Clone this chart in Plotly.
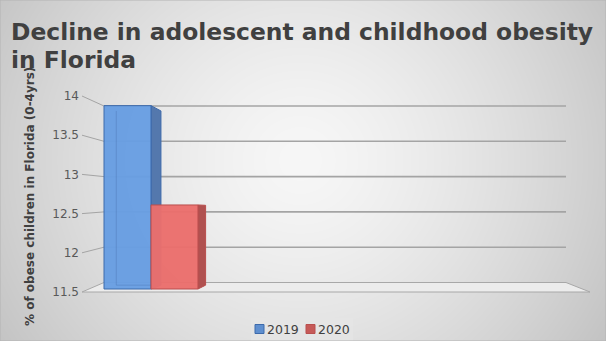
import base64
import struct
import zlib

import numpy as np
import plotly.graph_objects as go

# ---- data -------------------------------------------------------------
categories = ["Florida"]
series_names = ["2019", "2020"]
values_2019 = [13.9]
values_2020 = [12.6]
tick_values = [11.5, 12, 12.5, 13, 13.5, 14]
tick_labels = ["11.5", "12", "12.5", "13", "13.5", "14"]

title_lines = ["Decline in adolescent and childhood obesity", "in Florida"]
y_title = "% of obese children in Florida (0-4yrs)"

# ---- canvas geometry ---------------------------------------------------
W, H = 606, 341
FLOOR = 11.5

# three vertical scales of the 3-D box: bar front face, label plane, back wall
BAR_BASE_PX, BAR_PPU = 289.0, 76.4
LABEL_BASE_PX, LABEL_PPU = 292.0, 78.4
WALL_BASE_PX, WALL_PPU = 282.5, 70.6

WALL_LEFT_PX, WALL_RIGHT_PX = 104.0, 566.0
FLOOR_FRONT_LEFT_PX, FLOOR_FRONT_RIGHT_PX = 82.0, 590.0
VANISH = (350.0, 212.0)
DEPTH_K = 0.05

GROUP_CENTER_PX, GROUP_WIDTH_PX, CAT_SPAN_PX = 151.0, 94.0, 190.0


def xp(p):
    return p / W


def yp(p):
    return 1.0 - p / H


def axis_range(base_px, ppu):
    lo = FLOOR - (H - base_px) / ppu
    return [lo, lo + H / ppu]


def bar_px(v):
    return BAR_BASE_PX - (v - FLOOR) * BAR_PPU


def label_px(v):
    return LABEL_BASE_PX - (v - FLOOR) * LABEL_PPU


def wall_px(v):
    return WALL_BASE_PX - (v - FLOOR) * WALL_PPU


def recede(x, y):
    return x + DEPTH_K * (VANISH[0] - x), y + DEPTH_K * (VANISH[1] - y)


def png_data_uri(rgb):
    h, w, _ = rgb.shape
    raw = b"".join(b"\x00" + rgb[r].tobytes() for r in range(h))

    def chunk(tag, data):
        c = struct.pack(">I", len(data)) + tag + data
        return c + struct.pack(">I", zlib.crc32(tag + data) & 0xFFFFFFFF)

    png = (b"\x89PNG\r\n\x1a\n"
           + chunk(b"IHDR", struct.pack(">IIBBBBB", w, h, 8, 2, 0, 0, 0))
           + chunk(b"IDAT", zlib.compress(raw, 9))
           + chunk(b"IEND", b""))
    return "data:image/png;base64," + base64.b64encode(png).decode()


# soft radial grey backdrop
yy, xx = np.mgrid[0:H, 0:W]
dist = np.sqrt(((xx - 300) / 1.0) ** 2 + ((yy - 160) / 0.95) ** 2) / 360.0
shade = np.clip(247 - 52 * dist ** 1.4, 0, 255).astype(np.uint8)
backdrop = np.dstack([shade, shade, shade])

# ---- figure ------------------------------------------------------------
fig = go.Figure()

bar_colors = ["rgba(104,158,226,0.97)", "rgba(234,110,108,0.97)"]
edge_colors = ["#3d6aab", "#b94f4e"]
side_colors = ["#5478ad", "#b05150"]
swatch_colors = ["#5f8fcf", "#c65a58"]

for name, vals, fill, edge in zip(series_names, [values_2019, values_2020],
                                  bar_colors, edge_colors):
    fig.add_trace(go.Bar(
        name=name,
        x=categories,
        y=[v - FLOOR for v in vals],
        base=[FLOOR] * len(vals),
        marker=dict(color=fill, line=dict(color=edge, width=1)),
        yaxis="y",
        hoverinfo="skip",
        showlegend=False,
    ))

shapes = []
grid_col = "#a4a4a4"

# floor slab
fl_front, fl_back = label_px(FLOOR), wall_px(FLOOR)
shapes.append(dict(
    type="path", xref="paper", yref="paper", layer="below",
    path=(f"M {xp(FLOOR_FRONT_LEFT_PX)},{yp(fl_front)} "
          f"L {xp(FLOOR_FRONT_RIGHT_PX)},{yp(fl_front)} "
          f"L {xp(WALL_RIGHT_PX)},{yp(fl_back)} "
          f"L {xp(WALL_LEFT_PX)},{yp(fl_back)} Z"),
    fillcolor="#ececec", line=dict(color="#a8a8a8", width=1),
))

# back-wall gridlines and leader lines to the tick labels
for v in tick_values:
    if v > FLOOR:
        shapes.append(dict(
            type="line", xref="paper", yref="paper", layer="below",
            x0=xp(WALL_LEFT_PX), x1=xp(WALL_RIGHT_PX),
            y0=yp(wall_px(v)), y1=yp(wall_px(v)),
            line=dict(color=grid_col, width=1.6),
        ))
        shapes.append(dict(
            type="line", xref="paper", yref="paper", layer="below",
            x0=xp(FLOOR_FRONT_LEFT_PX), x1=xp(WALL_LEFT_PX),
            y0=yp(label_px(v)), y1=yp(wall_px(v)),
            line=dict(color=grid_col, width=1),
        ))

# bar side faces (behind the bars) and the back edge seen through the front face
bar_w = GROUP_WIDTH_PX / len(series_names)
for i, vals in enumerate([values_2019, values_2020]):
    left = GROUP_CENTER_PX - GROUP_WIDTH_PX / 2 + i * bar_w
    right = left + bar_w
    top, bottom = bar_px(vals[0]), bar_px(FLOOR)
    tr, br = recede(right, top), recede(right, bottom)
    shapes.append(dict(
        type="path", xref="paper", yref="paper", layer="between",
        path=(f"M {xp(right)},{yp(top)} L {xp(tr[0])},{yp(tr[1])} "
              f"L {xp(br[0])},{yp(br[1])} L {xp(right)},{yp(bottom)} Z"),
        fillcolor=side_colors[i], line=dict(color=edge_colors[i], width=1),
    ))
    if i == 0:
        tl, bl = recede(left, top), recede(left, bottom)
        shapes.append(dict(
            type="path", xref="paper", yref="paper", layer="above",
            path=(f"M {xp(tl[0])},{yp(tl[1])} L {xp(bl[0])},{yp(bl[1])} "
                  f"L {xp(right)},{yp(bl[1])}"),
            line=dict(color="rgba(70,110,170,0.35)", width=1),
        ))

# legend box with swatches
LEG_BOX = (251, 318, 353, 342)
shapes.append(dict(type="rect", xref="paper", yref="paper", layer="above",
                   x0=xp(LEG_BOX[0]), x1=xp(LEG_BOX[2]),
                   y0=yp(LEG_BOX[3]), y1=yp(LEG_BOX[1]),
                   fillcolor="rgba(228,228,228,0.9)", line=dict(width=0)))
swatch_x = [255, 306]
for sx, col, edge in zip(swatch_x, swatch_colors, edge_colors):
    shapes.append(dict(type="rect", xref="paper", yref="paper", layer="above",
                       x0=xp(sx), x1=xp(sx + 9), y0=yp(333.5), y1=yp(324.5),
                       fillcolor=col, line=dict(color=edge, width=1)))

# thin frame round the chart
shapes.append(dict(type="rect", xref="paper", yref="paper", x0=0, y0=0, x1=1, y1=1,
                   line=dict(color="#b4b4b4", width=1), layer="above"))

title_font = dict(family="DejaVu Sans", size=23.4, color="#404040", weight="bold")
annotations = [
    dict(text=title_lines[0], xref="paper", yref="paper", x=xp(9), y=yp(48),
         xanchor="left", yanchor="bottom", showarrow=False, font=title_font),
    dict(text=title_lines[1], xref="paper", yref="paper", x=xp(9), y=yp(76),
         xanchor="left", yanchor="bottom", showarrow=False, font=title_font),
    dict(text=y_title, xref="paper", yref="paper", x=xp(30), y=yp(197),
         xanchor="center", yanchor="middle", textangle=-90, showarrow=False,
         font=dict(family="DejaVu Sans", size=12, color="#404040", weight="bold")),
]
for sx, name in zip(swatch_x, series_names):
    annotations.append(dict(
        text=name, xref="paper", yref="paper", x=xp(sx + 10), y=yp(329),
        xanchor="left", yanchor="middle", showarrow=False,
        font=dict(family="DejaVu Sans", size=12.5, color="#404040"),
    ))

fig.update_layout(
    width=W, height=H,
    margin=dict(l=0, r=0, t=0, b=0),
    paper_bgcolor="rgba(0,0,0,0)",
    plot_bgcolor="rgba(0,0,0,0)",
    barmode="group",
    bargap=1 - GROUP_WIDTH_PX / CAT_SPAN_PX,
    bargroupgap=0,
    images=[dict(source=png_data_uri(backdrop), xref="paper", yref="paper",
                 x=0, y=1, sizex=1, sizey=1, sizing="stretch", layer="below")],
    xaxis=dict(
        domain=[xp(GROUP_CENTER_PX - CAT_SPAN_PX / 2), xp(GROUP_CENTER_PX + CAT_SPAN_PX / 2)],
        range=[-0.5, 0.5], visible=False, fixedrange=True,
    ),
    yaxis=dict(range=axis_range(BAR_BASE_PX, BAR_PPU), visible=False,
               domain=[0, 1], fixedrange=True),
    yaxis2=dict(
        range=axis_range(LABEL_BASE_PX, LABEL_PPU), overlaying="y",
        anchor="free", position=xp(FLOOR_FRONT_LEFT_PX - 1), side="left",
        tickvals=tick_values, ticktext=tick_labels, ticks="",
        showgrid=False, zeroline=False, showline=False, automargin=False,
        tickfont=dict(family="DejaVu Sans", size=12, color="#595959"),
        ticklabelstandoff=2,
    ),
    showlegend=False,
    shapes=shapes,
    annotations=annotations,
)

# hidden trace anchoring the label axis so its ticks render
fig.add_trace(go.Scatter(x=categories, y=[None], yaxis="y2", showlegend=False,
                         hoverinfo="skip"))

fig.write_html("out.html")
